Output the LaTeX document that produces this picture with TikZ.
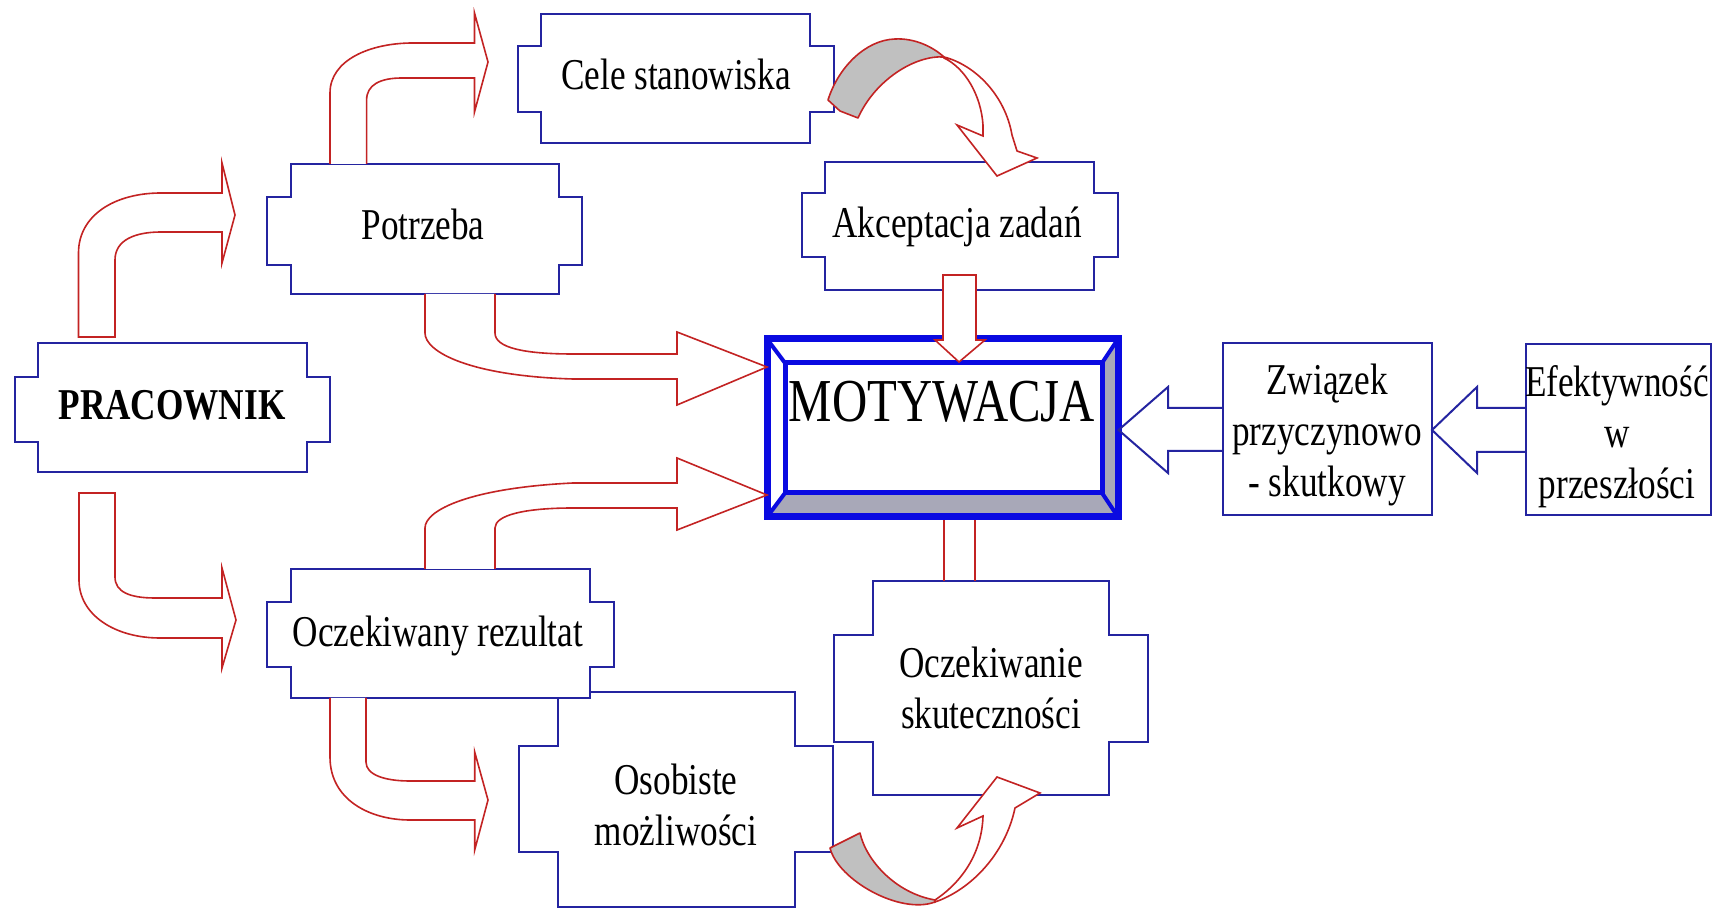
\documentclass[tikz,border=0pt]{standalone}
\usepackage{fontspec}
\newfontfamily\diagfont{Liberation Serif}[FakeStretch=0.8]
\definecolor{boxblue}{RGB}{36,36,160}
\definecolor{brightblue}{RGB}{10,10,225}
\definecolor{arrowred}{RGB}{195,35,35}
\definecolor{shadegray}{RGB}{192,192,192}
\definecolor{bevelgray}{RGB}{168,168,184}
% frame of a box with side tabs: x1 y1 x2 y2 (main rectangle), tab left x, tab right x, tab top y, tab bottom y
\newcommand\tabframe[8]{%
  \path[boxline] (#1,#2) -- (#3,#2) -- (#3,#7) -- (#6,#7) -- (#6,#8) -- (#3,#8) -- (#3,#4)
    -- (#1,#4) -- (#1,#8) -- (#5,#8) -- (#5,#7) -- (#1,#7) -- cycle;}
\begin{document}
\begin{tikzpicture}[x=0.5pt, y=-0.5pt,
  boxline/.style={draw=boxblue, line width=1pt, fill=white, line join=miter},
  plainbox/.style={draw=boxblue, line width=1pt, fill=white},
  redarrow/.style={draw=arrowred, line width=0.8pt, fill=white, line join=miter},
  redshade/.style={draw=arrowred, line width=0.8pt, fill=shadegray, line join=round},
  bluearrow/.style={draw=boxblue, line width=1pt, line join=miter},
  label/.style={font=\diagfont\fontsize{22}{25.5}\selectfont, inner sep=0pt, anchor=base},
  biglabel/.style={font=\diagfont\fontsize{30.5}{36}\selectfont, inner sep=0pt, anchor=base}]

\useasboundingbox (0,0) rectangle (1713,913);
\fill[white] (0,0) rectangle (1713,913);

% tabbed boxes
\tabframe{38}{343}{307}{472}{15}{330}{377}{442}
\tabframe{291}{164}{559}{294}{267}{582}{197}{265}
\tabframe{541}{14}{810}{143}{518}{834}{46}{112}
\tabframe{825}{162}{1094}{290}{802}{1118}{193}{257}
\tabframe{558}{692}{795}{907}{519}{833}{746}{852}
\tabframe{291}{569}{590}{698}{267}{614}{602}{667}
\tabframe{873}{581}{1109}{795}{834}{1148}{635}{742}

% plain boxes on the right
\path[plainbox] (1223,343) rectangle (1432,515);
\path[plainbox] (1526,344) rectangle (1711,515);

% central bevelled box
\fill[white] (767,339) rectangle (1118,517);
\fill[bevelgray] (767,517) -- (1118,517) -- (1102,493) -- (785,493) -- cycle;
\fill[bevelgray] (1118,339) -- (1118,517) -- (1102,493) -- (1102,363) -- cycle;
\draw[brightblue, line width=2pt] (767,339) -- (785,363) (1118,339) -- (1102,363)
  (767,517) -- (785,493) (1118,517) -- (1102,493);
\draw[brightblue, line width=2.5pt] (785,363) rectangle (1102,493);
\draw[brightblue, line width=3.5pt] (767,339) rectangle (1118,517);

% labels
\node[label] (pracownik) at (172,420) {\bfseries PRACOWNIK};
\node[label] (potrzeba) at (423,240) {Potrzeba};
\node[label] (cele) at (676,90) {Cele stanowiska};
\node[label] (akceptacja) at (957,238) {Akceptacja zadań};
\node[biglabel] (motywacja) at (942,422) {MOTYWACJA};
\node[label] (zwiazek) at (1327,395) {\begin{tabular}[t]{@{}c@{}}Związek\\przyczynowo\\- skutkowy\end{tabular}};
\node[label] (efektywnosc) at (1617,397) {\begin{tabular}[t]{@{}c@{}}Efektywność\\w\\przeszłości\end{tabular}};
\node[label] (rezultat) at (438,647) {Oczekiwany rezultat};
\node[label] (skutecznosc) at (991,678) {\begin{tabular}[t]{@{}c@{}}Oczekiwanie\\skuteczności\end{tabular}};
\node[label] (mozliwosci) at (676,794) {\begin{tabular}[t]{@{}c@{}}Osobiste\\możliwości\end{tabular}};

% bent block arrows
\path[redarrow] (78.5,337) -- (78.5,253) .. controls (78.5,215) and (115,193) .. (161,193)
  -- (222,193) -- (222,163) -- (235,215) -- (222,263) -- (222,232) -- (161,232)
  .. controls (135,232) and (115,240) .. (115,260) -- (115,337) -- cycle;
\path[redarrow] (330,164) -- (330,93) .. controls (330,60) and (370,43) .. (413,43)
  -- (474.5,43) -- (474.5,13) -- (488,62) -- (474.5,112) -- (474.5,78) -- (402,78)
  .. controls (380,78) and (366.6,85) .. (366.6,100) -- (366.6,164);
\path[redarrow] (79,493) -- (79,580) .. controls (79,615) and (115,638) .. (160,638)
  -- (222,638) -- (222,668) -- (236,620) -- (222,568) -- (222,598) -- (155,598)
  .. controls (130,598) and (115,592) .. (115,577) -- (115,493) -- cycle;
\path[redarrow] (330,698) -- (330,757) .. controls (330,800) and (370,820) .. (410,820)
  -- (474.7,820) -- (474.7,850) -- (488,800) -- (474.7,752) -- (474.7,781) -- (410,781)
  .. controls (385,781) and (366,775) .. (366,762) -- (366,698);
\path[redarrow] (425,294) -- (425,333) .. controls (425,352) and (470,376) .. (573,379)
  -- (677,379) -- (677,405) -- (767,367) -- (677,332) -- (677,354) -- (573,354)
  .. controls (525,354) and (495,348) .. (495,333) -- (495,294);
\path[redarrow] (425,569) -- (425,528) .. controls (425,510) and (470,488) .. (573,483)
  -- (677,483) -- (677,458) -- (767,495) -- (677,530) -- (677,508) -- (573,508)
  .. controls (525,508) and (495,515) .. (495,528) -- (495,569);

% straight block arrow into the central box
\path[redarrow] (943,275) -- (943,340) -- (935,340) -- (959,362) -- (985,340) -- (976,340)
  -- (976,275) -- cycle;
\draw[arrowred, line width=0.8pt] (944,520) -- (944,581) (975,520) -- (975,581);

% curved arrow at the top
\path[redshade] (828,100) .. controls (838,68) and (865,40) .. (895,39)
  .. controls (915,38) and (933,47) .. (944,57)
  .. controls (915,55) and (875,80) .. (858,118) -- (840,111) -- cycle;
\path[redarrow] (944,57) .. controls (975,65) and (1005,95) .. (1012,135)
  -- (1017,151) -- (1037,158) -- (997,176) -- (957,125) -- (983,136) -- (983,125)
  .. controls (981,95) and (965,68) .. (944,58) -- cycle;

% curved arrow at the bottom
\path[redshade] (830,848) -- (860,833) .. controls (866,860) and (895,893) .. (935,900)
  -- (935,902) .. controls (900,915) and (838,880) .. (830,848) -- cycle;
\path[redarrow] (935,902) .. controls (970,890) and (1005,855) .. (1015,808)
  -- (1040,793) -- (997,777) -- (957,828) -- (983,816)
  .. controls (982,850) and (965,880) .. (935,900) -- cycle;

% hollow arrows from the right
\draw[bluearrow] (1223,408) -- (1168,408) -- (1168,387) -- (1118.5,430) -- (1168,473)
  -- (1168,451) -- (1223,451);
\draw[bluearrow] (1526,408) -- (1477,408) -- (1477,387) -- (1432,430) -- (1477,473)
  -- (1477,452) -- (1526,452);
\end{tikzpicture}
\end{document}
